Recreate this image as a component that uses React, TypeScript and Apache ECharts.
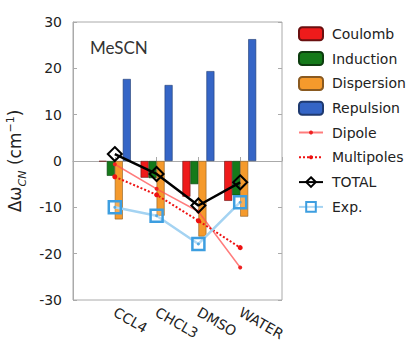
import React, { useEffect, useRef } from "react";
import * as echarts from "echarts";

const categories = ["CCL4", "CHCL3", "DMSO", "WATER"];
const coulomb = [-0.1, -3.6, -7.7, -8.6];
const induction = [-3.2, -3.7, -5.0, -7.4];
const dispersion = [-12.6, -11.8, -16.3, -12.0];
const repulsion = [17.7, 16.4, 19.4, 26.3];
const dipole = [-0.7, -6.0, -10.9, -23.0];
const multipoles = [-3.4, -7.3, -12.9, -18.7];
const total = [1.5, -2.8, -9.6, -4.6];
const expData = [-10.0, -11.8, -17.9, -8.9];
const yTicks = [-30, -20, -10, 0, 10, 20, 30];
const legendNames = ["Coulomb", "Induction", "Dispersion", "Repulsion", "Dipole", "Multipoles", "TOTAL", "Exp."];
const legendIconHeights = [13, 13, 13, 13, 5, 5, 12, 12];

const FONT = "DejaVu Sans";
const pts = (arr: number[]) => arr.map((v, i) => [i + 1, v]);

export default function App() {
  const ref = useRef<HTMLDivElement>(null);
  useEffect(() => {
    const chart = echarts.init(ref.current!, null, { renderer: "svg" });
    const barCommon = (name: string, data: number[], color: string, border: string) => ({
      name,
      type: "bar",
      data: pts(data),
      barWidth: 8,
      barGap: "0%",
      itemStyle: { color, borderColor: border, borderWidth: 0.6 },
      z: 2,
    });
    const legendText = { fontFamily: FONT, fontSize: 14, color: "#222", lineHeight: 14, padding: [0, 0, 0, 4] };
    const legends = legendNames.map((name, i) => ({
      orient: "vertical",
      left: 298,
      top: 33.3 + 24.8 * i - 7,
      padding: 0,
      itemWidth: 24,
      itemHeight: legendIconHeights[i],
      textStyle: legendText,
      data: [name],
    }));
    chart.setOption({
      animation: false,
      textStyle: { fontFamily: FONT },
      grid: {
        left: 73, top: 22, right: 125, bottom: 43,
        outerBoundsMode: "none", containLabel: false,
        show: true, borderColor: "#aaa", borderWidth: 1, backgroundColor: "transparent",
      },
      legend: legends,
      xAxis: {
        type: "value",
        min: 0,
        max: 5,
        interval: 1,
        splitLine: { show: false },
        axisLine: { show: true, lineStyle: { color: "#aaa" } },
        axisTick: { show: true, inside: true, length: 4, lineStyle: { color: "#aaa" } },
        axisLabel: {
          rotate: -30,
          fontSize: 14,
          lineHeight: 14,
          color: "#222",
          fontFamily: FONT,
          margin: 11,
          formatter: (v: number) => (v >= 1 && v <= 4 ? categories[v - 1] : ""),
        },
      },
      yAxis: [
        {
          type: "value",
          min: yTicks[0],
          max: yTicks[yTicks.length - 1],
          interval: 10,
          splitLine: { show: false },
          axisLine: { show: true, lineStyle: { color: "#aaa" } },
          axisTick: { show: true, inside: true, length: 4, lineStyle: { color: "#aaa" } },
          axisLabel: { fontSize: 14, color: "#222", fontFamily: FONT, margin: 11 },
          name: "{a|Δω}{b|CN}{a| (cm}{c|−1}{a|)}",
          nameLocation: "middle",
          nameRotate: 90,
          nameGap: 42,
          nameTextStyle: {
            rich: {
              a: { fontSize: 17, fontFamily: FONT, color: "#222", lineHeight: 20 },
              b: { fontSize: 11, fontFamily: FONT, fontStyle: "italic", color: "#222", verticalAlign: "bottom", lineHeight: 12, padding: [0, 0, -3, 0] },
              c: { fontSize: 11, fontFamily: FONT, color: "#222", verticalAlign: "top", lineHeight: 12 },
            },
          },
        },
        {
          type: "value",
          position: "right",
          min: yTicks[0],
          max: yTicks[yTicks.length - 1],
          interval: 10,
          splitLine: { show: false },
          axisLine: { show: false },
          axisTick: { show: true, inside: true, length: 4, lineStyle: { color: "#aaa" } },
          axisLabel: { show: false },
        },
      ],
      graphic: [
        { type: "text", left: 90, top: 39, style: { text: "MeSCN", fontSize: 17, fontFamily: "Lato", fill: "#333" } },
      ],
      series: [
        barCommon("Coulomb", coulomb, "#ee1b1b", "#6a1010"),
        barCommon("Induction", induction, "#157a1a", "#0d3d0f"),
        barCommon("Dispersion", dispersion, "#f59a2c", "#8a5a20"),
        barCommon("Repulsion", repulsion, "#3565c6", "#1f3a70"),
        {
          name: "Dipole",
          type: "line",
          data: pts(dipole),
          z: 3,
          symbol: "circle",
          symbolSize: 4,
          lineStyle: { color: "rgba(255,80,80,0.75)", width: 1.5 },
          itemStyle: { color: "#ee2222" },
        },
        {
          name: "Multipoles",
          type: "line",
          data: pts(multipoles),
          z: 3,
          symbol: "circle",
          symbolSize: 5,
          lineStyle: { color: "#ee1111", width: 2, type: [2, 2] },
          itemStyle: { color: "#ee1111" },
        },
        {
          name: "Exp.",
          type: "line",
          data: pts(expData),
          z: 4,
          symbol: "rect",
          symbolSize: 12,
          lineStyle: { color: "#a4d3f2", width: 2.5 },
          itemStyle: { color: "rgba(255,255,255,0.2)", borderColor: "#3d9ee0", borderWidth: 2.5 },
        },
        {
          name: "Exp. centre",
          type: "scatter",
          data: pts(expData),
          z: 4,
          symbol: "circle",
          symbolSize: 3,
          itemStyle: { color: "#3d9ee0" },
          silent: true,
        },
        {
          name: "TOTAL",
          type: "line",
          data: pts(total),
          z: 5,
          symbol: "diamond",
          symbolSize: 14,
          lineStyle: { color: "#000", width: 2.5 },
          itemStyle: { color: "rgba(255,255,255,0)", borderColor: "#000", borderWidth: 2 },
        },
      ],
    });
    return () => chart.dispose();
  }, []);
  return <div ref={ref} style={{ width: 407, height: 343, position: "absolute", left: 0, top: 0, background: "#fff" }} />;
}
